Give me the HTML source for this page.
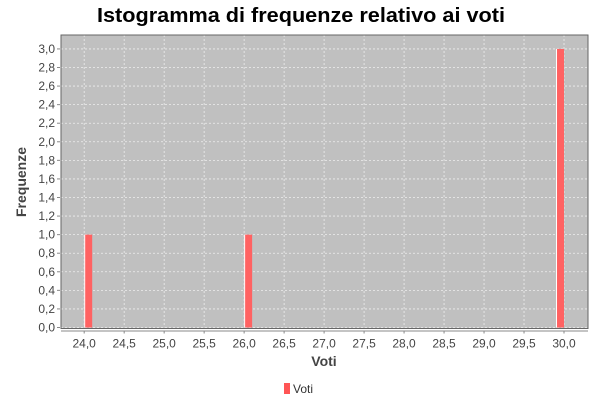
<!DOCTYPE html>
<html><head><meta charset="utf-8"><style>
body{margin:0;background:#fff;width:600px;height:400px;overflow:hidden;font-family:"Liberation Sans",sans-serif}
</style></head><body>
<svg id="c" width="600" height="400" xmlns="http://www.w3.org/2000/svg">
<text x="301" y="22" text-anchor="middle" font-size="20" font-weight="bold" fill="#000" textLength="408" lengthAdjust="spacingAndGlyphs">Istogramma di frequenze relativo ai voti</text>
<g id="plot"></g>
<text transform="translate(26,182) rotate(-90)" text-anchor="middle" font-size="14" font-weight="bold" fill="#444">Frequenze</text>
<text x="324" y="366" text-anchor="middle" font-size="14" font-weight="bold" fill="#444">Voti</text>
<g>
<rect x="284" y="383" width="6" height="11" fill="#ff5555"/>
<text x="293" y="393" font-size="12" fill="#333">Voti</text>
</g>
</svg>
<script>
const binStarts = [24.0, 26.0, 29.9];
const binWidth = 0.1;
const counts = [1, 1, 3];
const xTicks = [24.0,24.5,25.0,25.5,26.0,26.5,27.0,27.5,28.0,28.5,29.0,29.5,30.0];
const yTicks = [0,0.2,0.4,0.6,0.8,1.0,1.2,1.4,1.6,1.8,2.0,2.2,2.4,2.6,2.8,3.0];
const L=61,R=588,T=35,B=327.5;
const xMin=23.71,xMax=30.30,yMax=3.15;
const sx=v=>L+(v-xMin)/(xMax-xMin)*(R-L);
const sy=v=>B-v/yMax*(B-T);
const NS="http://www.w3.org/2000/svg";
const g=document.getElementById('plot');
function mk(t,a){const e=document.createElementNS(NS,t);for(const k in a)e.setAttribute(k,a[k]);g.appendChild(e);return e;}
let bg=mk('rect',{x:L,y:T,width:R-L,height:B-T+1,fill:'#c0c0c0'});


yTicks.forEach(v=>{
  const y=sy(v);
  let l=mk('line',{x1:L,x2:R,y1:y,y2:y,stroke:'#eee','stroke-dasharray':'2,2','stroke-width':0.8});
  
  
  let t=mk('text',{x:L-6,y:y+4,'text-anchor':'end','font-size':12,fill:'#444'});
  t.textContent=v.toFixed(1).replace('.',',');
  
  
  mk('line',{x1:L-4,x2:L-1,y1:y,y2:y,stroke:'#888'});
});
xTicks.forEach(v=>{
  const x=sx(v);
  let l=mk('line',{x1:x,x2:x,y1:T,y2:B,stroke:'#eee','stroke-dasharray':'2,2','stroke-width':0.8});
  
  
  mk('line',{x1:x,x2:x,y1:B+3,y2:B+6,stroke:'#888'});
  let t=mk('text',{x:x,y:B+20,'text-anchor':'middle','font-size':12,fill:'#444'});
  t.textContent=v.toFixed(1).replace('.',',');
  
  
});
binStarts.forEach((s,i)=>{
  const x0=sx(s),x1=sx(s+binWidth),y=sy(counts[i]);
  let b=mk('rect',{x:x0,y:y,width:x1-x0,height:B-y,fill:'#ff6262'});
  
  
  mk('line',{x1:x0+0.5,x2:x0+0.5,y1:y,y2:B,stroke:'#fff','stroke-width':1});
});
let fr=mk('rect',{x:L,y:T,width:R-L,height:B-T+1,fill:'none',stroke:'#666','stroke-width':1});


let ax=mk('line',{x1:L,x2:R,y1:B+3.5,y2:B+3.5,stroke:'#888'});


</script>
</body></html>
